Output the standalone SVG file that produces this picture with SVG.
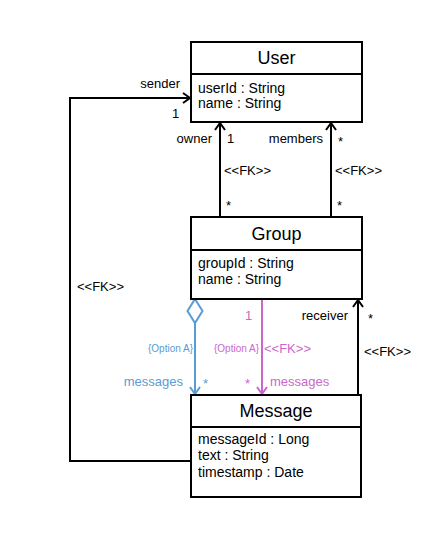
<svg xmlns="http://www.w3.org/2000/svg" width="442" height="556" viewBox="0 0 442 556">
<defs>
<style>
.box{fill:#fff;stroke:#000;stroke-width:2}
.div{stroke:#000;stroke-width:2}
.t{font-family:"Liberation Sans",Arial,sans-serif;fill:#000}
.title{font-size:18px;text-anchor:middle}
.attr{font-size:14px}
.lbl{font-size:13px}
.sm{font-size:10px}
.blue{fill:#5B9BD5}
.pink{fill:#CC66CC}
.ln{fill:none;stroke:#000;stroke-width:2}
.lb{fill:none;stroke:#5B9BD5;stroke-width:2}
.lp{fill:none;stroke:#CC66CC;stroke-width:2}
</style>
<marker id="ak" markerWidth="12" markerHeight="12" refX="10" refY="6" orient="auto" markerUnits="userSpaceOnUse"><path d="M3,1 L10,6 L3,11" fill="none" stroke="#000" stroke-width="2"/></marker>
<marker id="ab" markerWidth="12" markerHeight="12" refX="10" refY="6" orient="auto" markerUnits="userSpaceOnUse"><path d="M3,1 L10,6 L3,11" fill="none" stroke="#5B9BD5" stroke-width="2"/></marker>
<marker id="ap" markerWidth="12" markerHeight="12" refX="10" refY="6" orient="auto" markerUnits="userSpaceOnUse"><path d="M3,1 L10,6 L3,11" fill="none" stroke="#CC66CC" stroke-width="2"/></marker>
</defs>
<rect width="442" height="556" fill="#fff"/>
<g id="connectors">
<path class="ln" d="M191,461 H70 V98 H190" marker-end="url(#ak)"/>
<path class="ln" d="M220,217 V123" marker-end="url(#ak)"/>
<path class="ln" d="M331,217 V123" marker-end="url(#ak)"/>
<path class="ln" d="M358,395 V300" marker-end="url(#ak)"/>
<path class="lb" d="M195,299 L202.5,311 L195,323 L187.5,311 Z"/>
<path class="lb" d="M195,323 V394" marker-end="url(#ab)"/>
<path class="lp" d="M262,299 V394" marker-end="url(#ap)"/>
<text class="t lbl" x="180" y="88" text-anchor="end">sender</text>
<text class="t lbl" x="172" y="118">1</text>
<text class="t lbl" x="212" y="143" text-anchor="end">owner</text>
<text class="t lbl" x="227" y="143">1</text>
<text class="t lbl" x="323" y="143" text-anchor="end">members</text>
<text class="t lbl" x="338" y="146">*</text>
<text class="t lbl" x="224" y="175">&lt;&lt;FK&gt;&gt;</text>
<text class="t lbl" x="335" y="175">&lt;&lt;FK&gt;&gt;</text>
<text class="t lbl" x="226" y="210">*</text>
<text class="t lbl" x="337" y="210">*</text>
<text class="t lbl" x="77" y="291">&lt;&lt;FK&gt;&gt;</text>
<text class="t lbl" x="348" y="320" text-anchor="end">receiver</text>
<text class="t lbl" x="368" y="323">*</text>
<text class="t lbl" x="364" y="356">&lt;&lt;FK&gt;&gt;</text>
<text class="t sm blue" x="193" y="352" text-anchor="end">{Option A}</text>
<text class="t lbl blue" x="183" y="386" text-anchor="end">messages</text>
<text class="t lbl blue" x="203" y="388">*</text>
<text class="t lbl pink" x="245" y="320">1</text>
<text class="t sm pink" x="259" y="352" text-anchor="end">{Option A}</text>
<text class="t lbl pink" x="264" y="353">&lt;&lt;FK&gt;&gt;</text>
<text class="t lbl pink" x="245" y="388">*</text>
<text class="t lbl pink" x="270" y="386">messages</text>
</g>
<g id="User">
<rect class="box" x="191" y="42" width="171" height="80"/>
<line class="div" x1="191" y1="74" x2="362" y2="74"/>
<text class="t title" x="276.5" y="64">User</text>
<text class="t attr" x="198" y="93">userId : String</text>
<text class="t attr" x="198" y="108">name : String</text>
</g>
<g id="Group">
<rect class="box" x="191" y="217" width="171" height="82"/>
<line class="div" x1="191" y1="250" x2="362" y2="250"/>
<text class="t title" x="276.5" y="240">Group</text>
<text class="t attr" x="198" y="268">groupId : String</text>
<text class="t attr" x="198" y="284">name : String</text>
</g>
<g id="Message">
<rect class="box" x="191" y="395" width="170" height="102"/>
<line class="div" x1="191" y1="427" x2="361" y2="427"/>
<text class="t title" x="276" y="417">Message</text>
<text class="t attr" x="198" y="444">messageId : Long</text>
<text class="t attr" x="198" y="460">text : String</text>
<text class="t attr" x="198" y="477">timestamp : Date</text>
</g>
</svg>
